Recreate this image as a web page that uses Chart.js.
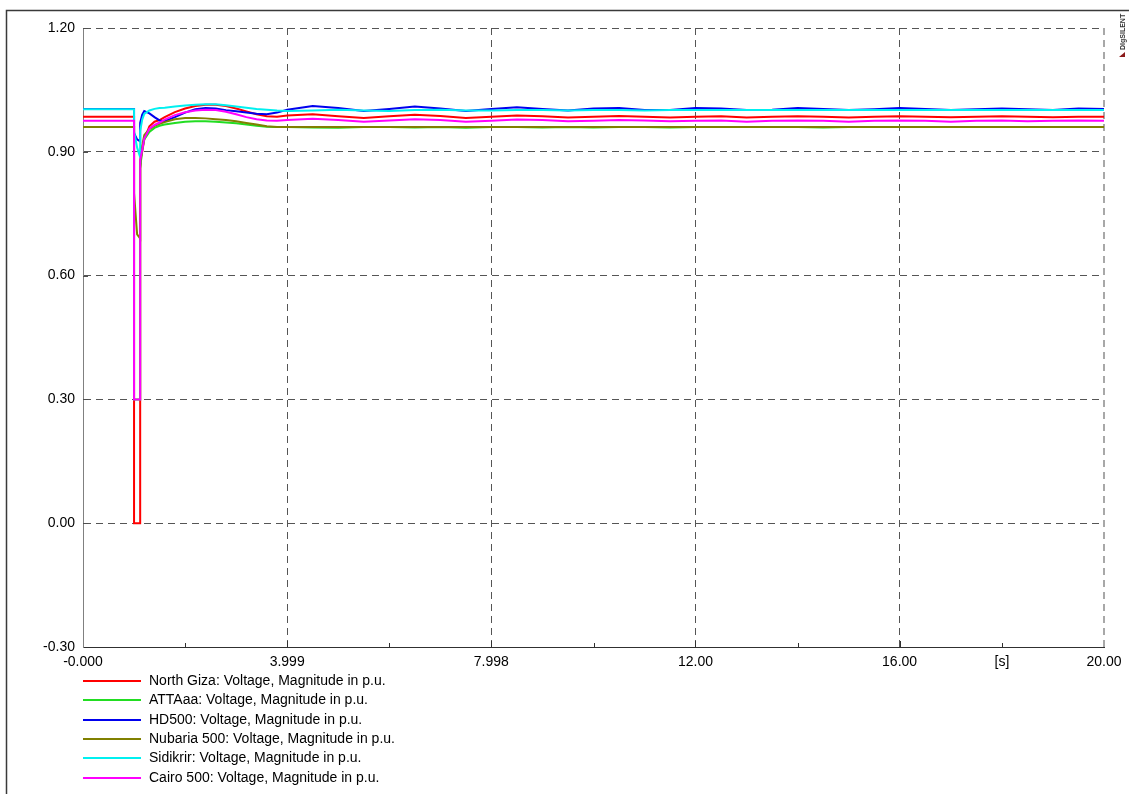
<!DOCTYPE html>
<html>
<head>
<meta charset="utf-8">
<script src="https://cdn.jsdelivr.net/npm/chart.js@4.4.1/dist/chart.umd.min.js"></script>
<style>
  html, body { margin: 0; padding: 0; background: #ffffff; }
  canvas { display: block; }
</style>
</head>
<body>
<canvas id="c" width="1129" height="794"></canvas>
<script>
// Simulation time [s]; repeated instants mark the fault inception (1.00 s) and clearing (1.12 s)
const timeS = [0, 1.0, 1.0, 1.06, 1.12, 1.12, 1.16, 1.2, 1.3, 1.4, 1.5, 1.6, 1.8, 2.0, 2.2, 2.4, 2.6, 2.8,
  3.0, 3.2, 3.4, 3.6, 3.8, 4.0, 4.5, 5.0, 5.5, 6.0, 6.5, 7.0, 7.5, 8.0, 8.5, 9.0, 9.5, 10.0,
  10.5, 11.0, 11.5, 12.0, 12.5, 13.0, 13.5, 14.0, 14.5, 15.0, 15.5, 16.0, 16.5, 17.0, 17.5,
  18.0, 18.5, 19.0, 19.5, 20.0];

// Bus voltage magnitudes [p.u.]
const northGiza = [0.985, 0.985, 0.0, 0.0, 0.0, 0.88, 0.90, 0.93, 0.962, 0.973, 0.977, 0.984, 0.996, 1.005,
  1.011, 1.014, 1.014, 1.011, 1.005, 0.998, 0.991, 0.986, 0.985, 0.988, 0.991, 0.986, 0.982, 0.986,
  0.990, 0.987, 0.982, 0.985, 0.988, 0.986, 0.983, 0.985, 0.987, 0.985, 0.983, 0.985, 0.986, 0.983,
  0.985, 0.986, 0.985, 0.983, 0.985, 0.986, 0.985, 0.984, 0.985, 0.986, 0.985, 0.984, 0.985, 0.985];

const attaaa = [0.960, 0.960, 0.30, 0.30, 0.30, 0.86, 0.905, 0.93, 0.948, 0.958, 0.963, 0.966, 0.970, 0.973,
  0.974, 0.974, 0.973, 0.971, 0.969, 0.966, 0.963, 0.961, 0.960, 0.960, 0.959, 0.958, 0.960, 0.960,
  0.959, 0.960, 0.958, 0.960, 0.960, 0.959, 0.960, 0.959, 0.960, 0.960, 0.959, 0.960, 0.960, 0.960,
  0.960, 0.960, 0.959, 0.960, 0.960, 0.960, 0.960, 0.960, 0.960, 0.960, 0.960, 0.960, 0.960, 0.960];

const hd500 = [1.004, 1.004, 0.945, 0.930, 0.925, 0.970, 0.990, 0.999, 0.993, 0.984, 0.976, 0.974, 0.984, 0.995,
  1.003, 1.006, 1.005, 1.001, 0.998, 0.995, 0.992, 0.991, 0.995, 1.002, 1.011, 1.006, 0.999, 1.004,
  1.010, 1.005, 0.999, 1.004, 1.008, 1.004, 1.000, 1.005, 1.006, 1.001, 1.001, 1.006, 1.005, 1.001,
  1.002, 1.006, 1.004, 1.001, 1.003, 1.006, 1.004, 1.001, 1.003, 1.005, 1.003, 1.001, 1.005, 1.004];

const nubaria500 = [0.960, 0.960, 0.80, 0.70, 0.69, 0.86, 0.915, 0.94, 0.955, 0.963, 0.968, 0.972, 0.979, 0.982,
  0.982, 0.981, 0.979, 0.977, 0.974, 0.970, 0.966, 0.962, 0.960, 0.960, 0.960, 0.960, 0.960, 0.960,
  0.960, 0.960, 0.960, 0.960, 0.960, 0.960, 0.960, 0.960, 0.960, 0.960, 0.960, 0.960, 0.960, 0.960,
  0.960, 0.960, 0.960, 0.960, 0.960, 0.960, 0.960, 0.960, 0.960, 0.960, 0.960, 0.960, 0.960, 0.960];

const sidikrir = [1.003, 1.003, 0.95, 0.91, 0.887, 0.95, 0.978, 0.992, 1.000, 1.004, 1.006, 1.007, 1.010, 1.012,
  1.014, 1.015, 1.015, 1.013, 1.010, 1.007, 1.004, 1.002, 1.000, 0.999, 1.000, 1.002, 1.000, 0.999,
  1.001, 1.002, 1.000, 1.000, 1.001, 1.001, 1.000, 1.001, 1.001, 1.000, 1.001, 1.001, 1.001, 1.001,
  1.001, 1.001, 1.001, 1.001, 1.001, 1.001, 1.001, 1.001, 1.001, 1.001, 1.001, 1.001, 1.001, 1.001];

const cairo500 = [0.975, 0.975, 0.30, 0.30, 0.30, 0.88, 0.905, 0.932, 0.956, 0.965, 0.971, 0.978, 0.989, 0.996,
  1.000, 1.002, 1.001, 0.997, 0.991, 0.984, 0.979, 0.976, 0.975, 0.977, 0.980, 0.977, 0.973, 0.976,
  0.979, 0.977, 0.973, 0.975, 0.978, 0.977, 0.974, 0.975, 0.977, 0.976, 0.974, 0.975, 0.976, 0.973,
  0.975, 0.976, 0.975, 0.973, 0.975, 0.976, 0.975, 0.973, 0.975, 0.976, 0.974, 0.975, 0.976, 0.975];

const seriesLabels = [
  'North Giza: Voltage, Magnitude in p.u.',
  'ATTAaa: Voltage, Magnitude in p.u.',
  'HD500: Voltage, Magnitude in p.u.',
  'Nubaria 500: Voltage, Magnitude in p.u.',
  'Sidikrir: Voltage, Magnitude in p.u.',
  'Cairo 500: Voltage, Magnitude in p.u.'
];
const seriesValues = [northGiza, attaaa, hd500, nubaria500, sidikrir, cairo500];
const seriesColors = ['#ff0000', '#22dd22', '#0000ee', '#808000', '#00f0f0', '#ff00ff'];

// Axis ticks
const xTickValues = [0, 2.0, 3.999, 6.0, 7.998, 10.0, 11.997, 14.0, 15.996, 18.0, 20.0];
const xTickLabels = ['-0.000', '', '3.999', '', '7.998', '', '12.00', '', '16.00', '[s]', '20.00'];
const xGridValues = [3.999, 7.998, 11.997, 15.996];
const yTickValues = [-0.3, 0.0, 0.3, 0.6, 0.9, 1.2];
const yTickLabels = ['-0.30', '0.00', '0.30', '0.60', '0.90', '1.20'];

const FONT = "'Liberation Sans', Arial, Helvetica, sans-serif";
Chart.defaults.font.family = FONT;
Chart.defaults.font.size = 14;
Chart.defaults.color = '#000000';

const datasets = seriesValues.map((vals, i) => ({
  label: seriesLabels[i],
  data: vals.map((v, k) => ({ x: timeS[k], y: v })),
  borderColor: seriesColors[i],
  backgroundColor: seriesColors[i],
  borderWidth: 2,
  pointRadius: 0,
  fill: false,
  tension: 0,
  // later curves are painted over earlier ones
  order: seriesValues.length - 1 - i
}));

// Frame, inner tick marks, logo and curve legend
const decorations = {
  id: 'decorations',
  beforeDraw(chart) {
    const ctx = chart.ctx;
    ctx.save();
    ctx.fillStyle = '#ffffff';
    ctx.fillRect(0, 0, chart.width, chart.height);
    ctx.strokeStyle = '#3a3a3a';
    ctx.lineWidth = 1.5;
    ctx.beginPath();
    ctx.moveTo(6.5, chart.height);
    ctx.lineTo(6.5, 10.5);
    ctx.lineTo(chart.width, 10.5);
    ctx.stroke();
    ctx.restore();
  },
  afterDraw(chart) {
    const ctx = chart.ctx;
    const xs = chart.scales.x, ys = chart.scales.y;
    const area = chart.chartArea;
    ctx.save();
    // tick marks on the inside of the axes
    ctx.strokeStyle = '#303030';
    ctx.lineWidth = 1;
    ctx.setLineDash([]);
    xTickValues.forEach(v => {
      if (v <= 0 || v >= 20) return;
      const px = Math.round(xs.getPixelForValue(v)) + 0.5;
      const len = xGridValues.includes(v) ? 6 : 4;
      ctx.beginPath();
      ctx.moveTo(px, area.bottom);
      ctx.lineTo(px, area.bottom - len);
      ctx.stroke();
    });
    ctx.strokeStyle = '#505050';
    yTickValues.forEach(v => {
      if (v <= -0.3) return;
      const py = Math.round(ys.getPixelForValue(v)) + 0.5;
      ctx.beginPath();
      ctx.moveTo(area.left, py);
      ctx.lineTo(area.left + 5, py);
      ctx.stroke();
    });

    // vertical logo text in the upper right corner
    ctx.save();
    ctx.translate(1125, 50);
    ctx.rotate(-Math.PI / 2);
    ctx.fillStyle = '#333333';
    ctx.font = 'bold 7px ' + FONT;
    ctx.textAlign = 'left';
    ctx.textBaseline = 'alphabetic';
    ctx.fillText('DIgSILENT', 0, 0);
    ctx.restore();
    ctx.fillStyle = '#8b1a1a';
    ctx.beginPath();
    ctx.moveTo(1119, 57);
    ctx.lineTo(1125, 52);
    ctx.lineTo(1125, 57);
    ctx.closePath();
    ctx.fill();

    // curve legend below the plot
    const y0 = 681, dy = 19.3;
    chart.data.datasets.forEach((ds, i) => {
      const y = Math.round(y0 + i * dy);
      ctx.strokeStyle = ds.borderColor;
      ctx.lineWidth = 2;
      ctx.beginPath();
      ctx.moveTo(83, y);
      ctx.lineTo(141, y);
      ctx.stroke();
      ctx.fillStyle = '#000000';
      ctx.font = '14px ' + FONT;
      ctx.textAlign = 'left';
      ctx.textBaseline = 'middle';
      ctx.fillText(ds.label, 149, y + 0.5);
    });
    ctx.restore();
  }
};

new Chart(document.getElementById('c'), {
  type: 'line',
  data: { datasets },
  options: {
    responsive: false,
    animation: false,
    devicePixelRatio: 1,
    layout: { padding: { left: 0, top: 28, right: 25, bottom: 117 } },
    plugins: { legend: { display: false }, tooltip: { enabled: false } },
    scales: {
      x: {
        type: 'linear',
        min: 0,
        max: 20,
        afterBuildTicks: s => { s.ticks = xTickValues.map(v => ({ value: v })); },
        afterFit: s => { s.height = 30; },
        ticks: {
          autoSkip: false,
          maxRotation: 0,
          minRotation: 0,
          padding: 7,
          color: '#000000',
          callback: (v, i) => xTickLabels[i]
        },
        grid: {
          drawTicks: false,
          color: c => {
            const v = c.tick ? c.tick.value : null;
            if (v === 20) return '#a8a8a8';
            return xGridValues.includes(v) ? '#555555' : 'rgba(0,0,0,0)';
          },
          lineWidth: c => (c.tick && c.tick.value === 20 ? 2 : 1)
        },
        border: { display: true, color: '#303030', width: 1, dash: [7, 5] }
      },
      y: {
        type: 'linear',
        min: -0.3,
        max: 1.2,
        afterBuildTicks: s => { s.ticks = yTickValues.map(v => ({ value: v })); },
        afterFit: s => { s.width = 83; },
        ticks: {
          autoSkip: false,
          padding: 8,
          color: '#000000',
          callback: (v, i) => yTickLabels[i]
        },
        grid: {
          drawTicks: false,
          color: c => (c.tick && c.tick.value > -0.3 ? '#555555' : 'rgba(0,0,0,0)'),
          lineWidth: 1
        },
        border: { display: true, color: '#808080', width: 1, dash: [7, 5] }
      }
    }
  },
  plugins: [decorations]
});
</script>
</body>
</html>
